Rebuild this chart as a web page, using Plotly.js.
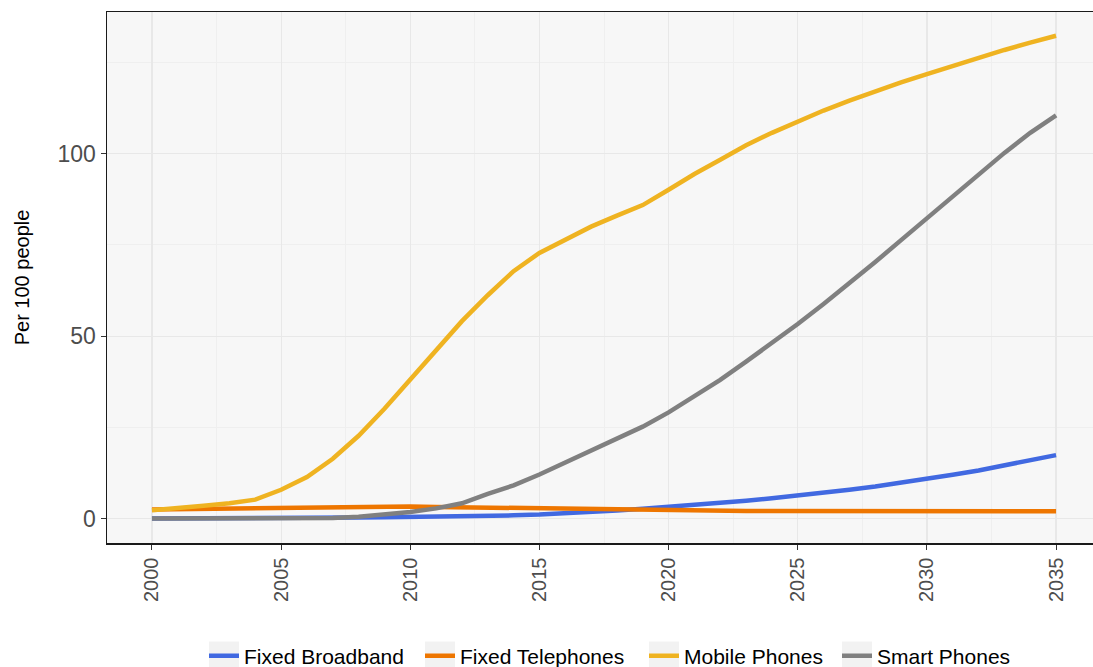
<!DOCTYPE html>
<html>
<head>
<meta charset="utf-8">
<script src="https://cdn.plot.ly/plotly-3.0.1.min.js"></script>
<style>html,body{margin:0;padding:0;background:#fff;}#chart{width:1093px;height:667px;}</style>
</head>
<body>
<div id="chart"></div>
<script>
const years = [2000,2001,2002,2003,2004,2005,2006,2007,2008,2009,2010,2011,2012,2013,2014,2015,2016,2017,2018,2019,2020,2021,2022,2023,2024,2025,2026,2027,2028,2029,2030,2031,2032,2033,2034,2035];
const fixedBroadband = [0.0,0.0,0.05,0.1,0.1,0.15,0.2,0.25,0.3,0.35,0.4,0.5,0.6,0.75,0.9,1.1,1.4,1.8,2.2,2.7,3.2,3.7,4.3,4.9,5.6,6.3,7.1,7.9,8.8,9.8,10.9,12.0,13.2,14.5,15.9,17.4];
const fixedTelephones = [2.5,2.6,2.7,2.8,2.9,3.0,3.1,3.2,3.3,3.3,3.3,3.2,3.1,2.9,2.7,2.6,2.5,2.4,2.3,2.3,2.2,2.2,2.2,2.1,2.1,2.1,2.1,2.0,2.0,2.0,2.0,2.0,2.0,2.0,2.0,2.0];
const mobilePhones = [2.3,2.8,3.5,4.2,5.2,7.9,11.4,16.4,22.7,30.1,38.1,46.3,54.1,61.2,67.8,72.8,76.5,80.0,83.0,85.9,90.1,94.4,98.3,102.3,105.7,108.8,111.8,114.5,117.1,119.5,121.8,124.1,126.3,128.4,130.4,132.3];
const smartPhones = [0,0,0,0,0,0,0.1,0.2,0.5,1.0,1.8,2.8,4.2,6.8,9.1,12.1,15.3,18.6,21.8,25.2,29.1,33.4,38.0,43.0,48.0,53.3,58.8,64.4,70.3,76.3,82.3,88.3,94.3,100.2,105.7,110.5];
const seriesNames = ["Fixed Broadband","Fixed Telephones","Mobile Phones","Smart Phones"];
const seriesColors = ["#4169E1","#EE7600","#EFB321","#808080"];
const xTicks = [2000,2005,2010,2015,2020,2025,2030,2035];
const yTicks = [0,50,100];

const W = 1093, H = 667;
const M = {l:107, r:0, t:12, b:124};
const PW = W - M.l - M.r, PH = H - M.t - M.b;
const font = "Liberation Sans, Arial, sans-serif";
const legendIds = ['legend','legend2','legend3','legend4'];
const legendLeftPx = [204, 420, 644, 837];
const legendCenterY = 656;

const seriesData = [fixedBroadband, fixedTelephones, mobilePhones, smartPhones];
const traces = seriesData.map((d,i)=>({
  x: years, y: d, type: 'scatter', mode: 'lines', name: seriesNames[i],
  legend: legendIds[i],
  line: {color: seriesColors[i], width: 4.5}
}));

// light key boxes behind legend samples (paper coordinates)
const keyShapes = legendLeftPx.map(px => {
  const cx = px + 20, half = 15;
  return {type:'rect', xref:'paper', yref:'paper', layer:'below',
    x0:(cx-half-M.l)/PW, x1:(cx+half-M.l)/PW,
    y0:(H-M.b-(legendCenterY+14.5))/PH, y1:(H-M.b-(legendCenterY-14.5))/PH,
    fillcolor:'#F2F2F2', line:{width:0}};
});

const layout = {
  width: W, height: H,
  margin: M,
  paper_bgcolor: '#ffffff',
  plot_bgcolor: '#F7F7F7',
  font: {family: font, color: '#000'},
  showlegend: true,
  shapes: keyShapes,
  xaxis: {
    automargin:false,
    range:[1998.26, 2036.43], tickvals: xTicks, ticktext: xTicks.map(String),
    tickangle:-90, tickfont:{size:20, color:'#4D4D4D'},
    ticks:'outside', ticklen:5, tickcolor:'#333', tickwidth:1,
    showline:true, linecolor:'#1a1a1a', linewidth:1.5, mirror:true,
    showgrid:true, gridcolor:'#E8E8E8', gridwidth:1.2, zeroline:false,
    minor:{dtick:2.5, tick0:2000, showgrid:true, gridcolor:'#EFEFEF', gridwidth:1, ticks:''}
  },
  yaxis: {
    automargin:false,
    range:[-6.68, 138.8], tickvals: yTicks, ticktext: yTicks.map(String),
    tickfont:{size:23, color:'#4D4D4D'},
    ticks:'outside', ticklen:5, tickcolor:'#333', tickwidth:1,
    showline:true, linecolor:'#1a1a1a', linewidth:1.5, mirror:true,
    showgrid:true, gridcolor:'#E8E8E8', gridwidth:1.2, zeroline:false,
    minor:{dtick:25, tick0:0, showgrid:true, gridcolor:'#EFEFEF', gridwidth:1, ticks:''},
    title:{text:'Per 100 people', font:{size:20, color:'#000'}, standoff:22}
  }
};
legendIds.forEach((id,i)=>{
  layout[id] = {orientation:'h', xref:'container', yref:'container',
    x: legendLeftPx[i]/W, xanchor:'left', y:(H-legendCenterY)/H, yanchor:'middle',
    font:{size:21, color:'#000', family:font}, itemwidth:30, bgcolor:'rgba(0,0,0,0)'};
});
Plotly.newPlot('chart', traces, layout, {displayModeBar:false, staticPlot:true});
</script>
</body>
</html>
